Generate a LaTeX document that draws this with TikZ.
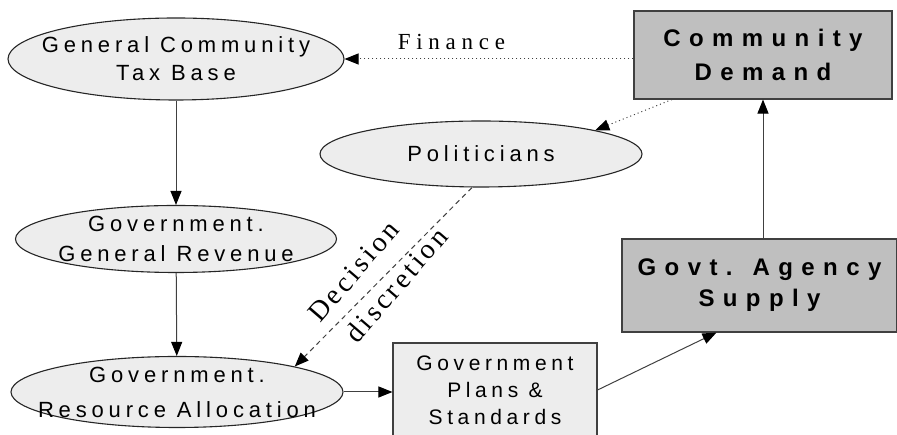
\documentclass[tikz,border=0pt]{standalone}
\usepackage{fontspec}
\setmainfont{Liberation Serif}
\setsansfont{Liberation Sans}
% tracked faces for the labels
\newfontfamily\trackedsf[LetterSpace=22]{Liberation Sans}
\newfontfamily\widesf[LetterSpace=35]{Liberation Sans}
\newfontfamily\trackedrm[LetterSpace=25]{Liberation Serif}
\newfontfamily\slantrm[LetterSpace=12]{Liberation Serif}
\usetikzlibrary{shapes.geometric,arrows.meta}

\begin{document}
\begin{tikzpicture}[
	x=1pt,
	y=1pt,
	% negative inner sep: the size comes from minimum width/height only
	oval/.style={ellipse, draw=black!85, fill=black!7, line width=1.1pt,
		inner xsep=-90pt, inner ysep=-12pt, align=center,
		font=\trackedsf\fontsize{22}{30}\selectfont},
	greybox/.style={rectangle, draw=black!75, fill=black!25, line width=1.1pt,
		inner sep=0pt, align=center,
		font=\widesf\bfseries\fontsize{24}{34}\selectfont},
	paperbox/.style={rectangle, draw=black!75, fill=black!7, line width=1.1pt,
		inner sep=0pt, align=center,
		font=\trackedsf\fontsize{21}{27}\selectfont},
	flow/.style={draw=black!75, line width=1pt,
		-{Triangle[length=14pt,width=11pt,color=black]}},
	dotline/.style={flow, dash pattern=on 1pt off 3pt},
	dashline/.style={flow, dash pattern=on 5pt off 4pt},
	serif/.style={font=\slantrm\fontsize{28}{30}\selectfont}]

\useasboundingbox (0,0) rectangle (897,435);

% left column (revenue side)
\node[oval, minimum width=336pt, minimum height=82pt] (tax) at (176,376)
	{General Community\\[-2pt]Tax Base};
\node[oval, minimum width=321pt, minimum height=67pt] (rev) at (176,196)
	{Government.\\General Revenue};
\node[oval, minimum width=332pt, minimum height=71pt] (alloc) at (177,43)
	{Government.\\[5pt]Resource Allocation};

% middle
\node[oval, minimum width=322pt, minimum height=66pt] (pol) at (481,281)
	{Politicians};
\node[paperbox, minimum width=204pt, minimum height=94pt] (plans) at (495,45)
	{Government\\Plans \&\\Standards};

% right column (demand / supply)
\node[greybox, minimum width=258pt, minimum height=88pt] (demand) at (763,380)
	{Community\\Demand};
\node[greybox, minimum width=275pt, minimum height=93pt] (supply) at (759.5,149.5)
	{Govt. Agency\\[-3pt]Supply};

% links
\draw[flow] (tax) -- (rev);
\draw[flow] (rev) -- (alloc);
\draw[flow] (alloc.east) -- (alloc.east -| plans.west);
\draw[flow] (plans.east) -- ([xshift=-43pt]supply.south);
\draw[flow] (demand.south |- supply.north) -- (demand.south);

\draw[dotline] (tax.east -| demand.west) --
	node[pos=.63, above=5pt, font=\trackedrm\fontsize{23}{28}\selectfont] (fin) {Finance}
	(tax.east);
\draw[dotline] ([xshift=-91pt]demand.south) -- (pol.north east);
\draw[dashline] ([xshift=-9pt]pol.south) --
	node[pos=.56, sloped, rotate=4, above=12pt, serif] (dec) {Decision}
	node[pos=.49, sloped, rotate=4, below=1pt, serif] (disc) {discretion}
	(alloc.north east);
\end{tikzpicture}
\end{document}
